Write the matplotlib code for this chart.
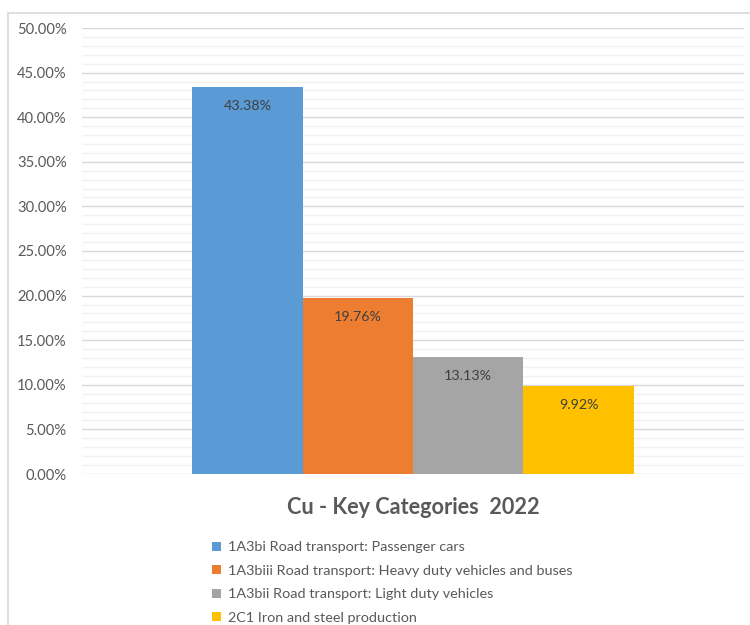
import matplotlib.pyplot as plt
from matplotlib.patches import Patch, Rectangle
from matplotlib.ticker import MultipleLocator, FuncFormatter

plt.rcParams['font.family'] = ['Lato', 'DejaVu Sans']

categories = ['1A3bi Road transport: Passenger cars',
              '1A3biii Road transport: Heavy duty vehicles and buses',
              '1A3bii Road transport: Light duty vehicles',
              '2C1 Iron and steel production']
shares = [43.38, 19.76, 13.13, 9.92]
colors = ['#5B9BD5', '#ED7D31', '#A5A5A5', '#FFC000']
title = 'Cu - Key Categories  2022'

fig = plt.figure(figsize=(7.5, 6.25), dpi=100)
fig.patches.append(Rectangle((8 / 750, -0.1), 1.0, 1.1 - 13 / 625, transform=fig.transFigure,
                             fill=False, edgecolor='#d9d9d9', linewidth=1.2))

ax = fig.add_axes([82 / 750, 1 - 474 / 625, 662 / 750, 446 / 625])
pos = [i - 1.5 for i in range(len(shares))]
bars = ax.bar(pos, shares, width=1.0, color=colors, zorder=3)
for b, v in zip(bars, shares):
    ax.annotate(f'{v:.2f}%', (b.get_x() + b.get_width() / 2, v), xytext=(0, -14),
                textcoords='offset points', ha='center', va='center',
                fontsize=10.3, color='#404040', zorder=4)

ax.set_xlim(-3, 3)
ax.set_ylim(0, 50)
ax.yaxis.set_major_locator(MultipleLocator(5))
ax.yaxis.set_minor_locator(MultipleLocator(1))
ax.yaxis.set_major_formatter(FuncFormatter(lambda v, p: f'{v:.2f}%'))
ax.grid(which='major', axis='y', color='#d9d9d9', linewidth=1.0, zorder=0)
ax.grid(which='minor', axis='y', color='#f2f2f2', linewidth=1.0, zorder=0)
ax.set_xticks([])
ax.tick_params(axis='y', which='both', length=0, pad=11, labelsize=10.6, labelcolor='#595959')
for s in ax.spines.values():
    s.set_visible(False)

fig.text(413 / 750, 1 - 507 / 625, title, ha='center', va='center',
         fontsize=15.6, fontweight='bold', color='#595959')

handles = [Patch(facecolor=c, edgecolor='none') for c in colors]
fig.legend(handles, categories, loc='upper left', bbox_to_anchor=(205 / 750, 1 - 534 / 625),
           frameon=False, fontsize=10.4, labelcolor='#595959', handlelength=0.6,
           handleheight=0.6, handletextpad=0.5, labelspacing=0.8, borderpad=0)

fig.savefig('out.png', dpi=100)
